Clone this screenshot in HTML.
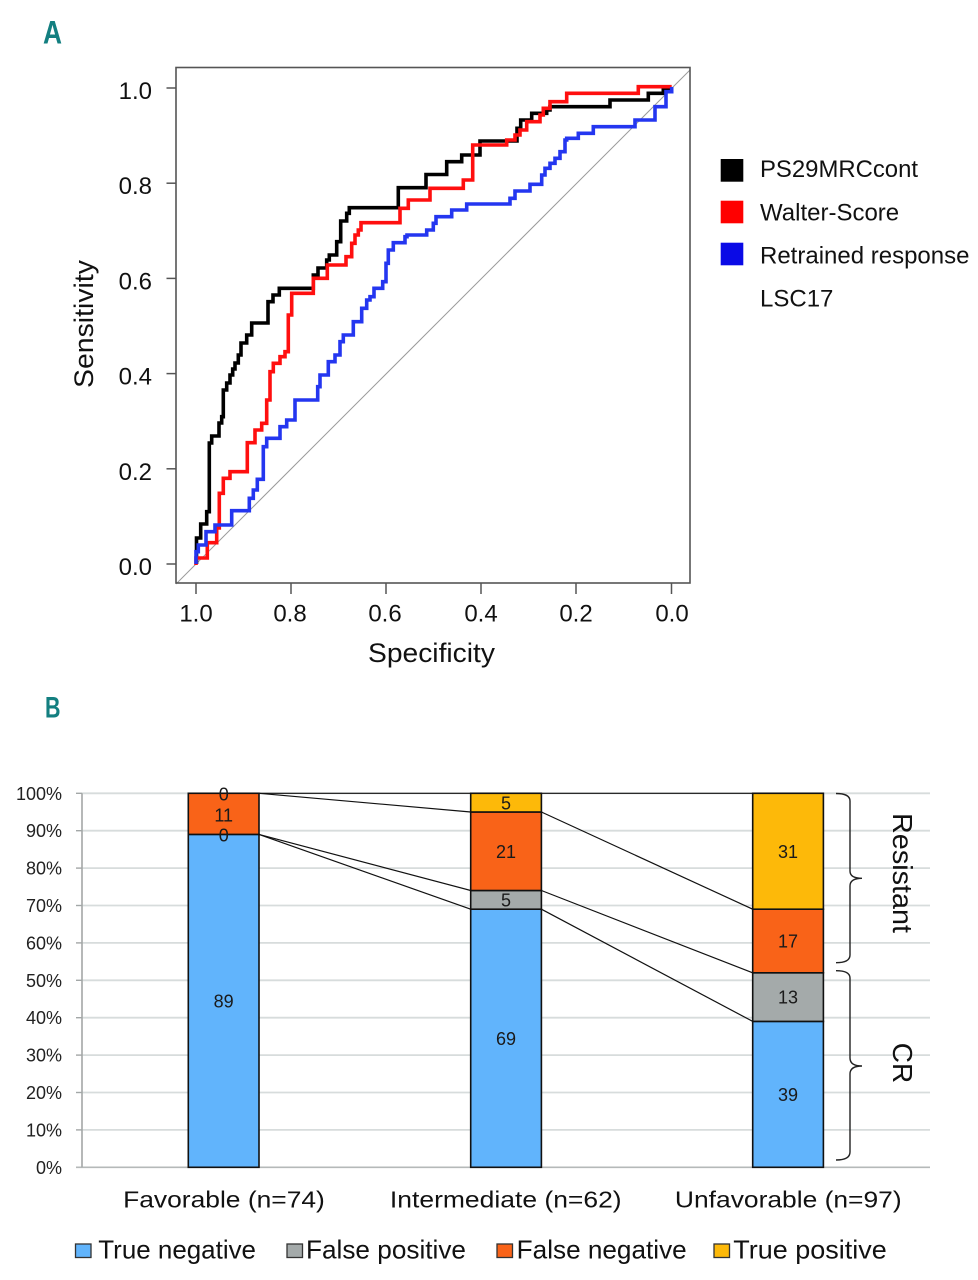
<!DOCTYPE html>
<html>
<head>
<meta charset="utf-8">
<style>
  html,body{margin:0;padding:0;background:#fff;}
  svg{display:block;}
  text{font-family:"Liberation Sans",Arial,sans-serif;}
</style>
</head>
<body>
<svg width="978" height="1280" viewBox="0 0 978 1280" xmlns="http://www.w3.org/2000/svg">
  <rect width="978" height="1280" fill="#fff"/>

  <!-- ============ PANEL A ============ -->
  <text x="43" y="43.3" font-family="Liberation Sans Narrow, Liberation Sans, sans-serif" font-weight="bold" font-size="32" fill="#137f80" textLength="19" lengthAdjust="spacingAndGlyphs">A</text>

  <!-- diagonal -->
  <line x1="176" y1="584" x2="690" y2="70" stroke="#9a9a9a" stroke-width="1"/>

  <!-- curves -->
  <g fill="none" stroke-width="3.6" stroke-linejoin="miter" stroke-linecap="butt">
    <path stroke="#000" d="M196.5,564 V538 H200.7 V524 H206.7 V511.7 H209.3 V443 H211.7 V436 H219 V423 H221.7 V416.7 H223.3 V390 H226.7 V383 H230 V375 H232.7 V369 H235 V363 H238.3 V355 H241 V343 H246.7 V335 H251.7 V323 H268 V301.7 H273 V295 H279.3 V288.3 H313.3 V275 H318 V268 H326.7 V260 H329.3 V255 H336.7 V241.7 H340.7 V221 H346.7 V213.3 H349.3 V207.7 H398.3 V187.7 H426 V174.5 H446.7 V161.7 H461.7 V155 H480 V141 H517 V128.3 H520.7 V120 H531.7 V113.3 H546.7 V110 H550 V106.7 H610 V100 H648.3 V93.3 H663.3 V89.3 H671.7 V87"/>
    <path stroke="#ff0f0f" d="M196,565 V558 H207.3 V542.7 H216.7 V528 H219.3 V493.3 H223.3 V478.3 H230 V471.7 H247.3 V442.7 H255 V430 H261.7 V423.3 H266.7 V400 H270 V371.7 H273.3 V363.3 H280 V356.7 H285 V351.7 H288.3 V315 H291.7 V293.3 H313.3 V278.3 H327.3 V265 H346 V256.7 H351.7 V243.3 H355 V235 H358.3 V230 H361 V222.7 H400 V208.3 H408.3 V200 H430 V188.3 H463.3 V180 H472.7 V145 H506.7 V140 H515 V135 H520 V130 H526.7 V121.7 H540 V115 H543.3 V108.3 H550 V101.7 H566.7 V93.3 H638.3 V86.7 H671.7"/>
    <path stroke="#2436f0" d="M196,564 V551.7 H198.3 V545 H206 V531.7 H215 V525 H231.7 V510.7 H249.3 V498.3 H253.3 V490 H257.3 V479.3 H263.3 V446.7 H266.7 V438.3 H280 V426.7 H286.7 V420 H295 V400 H317.7 V386.7 H320 V375 H328.3 V361.7 H335 V355 H340 V341.7 H343.3 V335 H353.3 V321.7 H361.7 V308.3 H366.7 V300 H370 V296.7 H374 V288.3 H382.7 V281.7 H386 V263.3 H388.3 V250 H393.3 V242.7 H405 V236.7 H407 V235 H426.7 V230 H433.3 V223.3 H436 V216.7 H451.7 V210 H466.7 V204 H510 V198.3 H515 V191 H530 V184.3 H541.7 V175 H545 V168.3 H550 V163.3 H555 V158.3 H560 V151.7 H565 V140 H566.7 V138.3 H578.3 V133.3 H593.3 V126.7 H635 V120 H655 V106.7 H666 V91.7 H671.7 V87"/>
  </g>

  <!-- box -->
  <rect x="176" y="67.5" width="514" height="515.5" fill="none" stroke="#555" stroke-width="1.6"/>

  <!-- y ticks -->
  <g stroke="#555" stroke-width="1.5">
    <line x1="166.5" y1="88" x2="176" y2="88"/>
    <line x1="166.5" y1="183.2" x2="176" y2="183.2"/>
    <line x1="166.5" y1="278.4" x2="176" y2="278.4"/>
    <line x1="166.5" y1="373.6" x2="176" y2="373.6"/>
    <line x1="166.5" y1="468.8" x2="176" y2="468.8"/>
    <line x1="166.5" y1="564" x2="176" y2="564"/>
    <!-- x ticks -->
    <line x1="196" y1="583" x2="196" y2="594"/>
    <line x1="291" y1="583" x2="291" y2="594"/>
    <line x1="386" y1="583" x2="386" y2="594"/>
    <line x1="481" y1="583" x2="481" y2="594"/>
    <line x1="576" y1="583" x2="576" y2="594"/>
    <line x1="671.5" y1="583" x2="671.5" y2="594"/>
  </g>
  <g font-size="24" fill="#111" text-anchor="end">
    <text x="152" y="99">1.0</text>
    <text x="152" y="194.2">0.8</text>
    <text x="152" y="289.4">0.6</text>
    <text x="152" y="384.6">0.4</text>
    <text x="152" y="479.8">0.2</text>
    <text x="152" y="575">0.0</text>
  </g>
  <g font-size="24" fill="#111" text-anchor="middle">
    <text x="196" y="621.5">1.0</text>
    <text x="290" y="621.5">0.8</text>
    <text x="385" y="621.5">0.6</text>
    <text x="481" y="621.5">0.4</text>
    <text x="576" y="621.5">0.2</text>
    <text x="672" y="621.5">0.0</text>
  </g>
  <text x="368" y="662" font-size="26.5" fill="#111" textLength="127" lengthAdjust="spacingAndGlyphs">Specificity</text>
  <text transform="translate(93,388) rotate(-90)" x="0" y="0" font-size="26.5" fill="#111" textLength="128" lengthAdjust="spacingAndGlyphs">Sensitivity</text>

  <!-- legend A -->
  <rect x="720.7" y="159" width="22.6" height="22.7" fill="#000"/>
  <rect x="720.7" y="200.7" width="22.6" height="22.6" fill="#f00"/>
  <rect x="720.7" y="242.7" width="22.6" height="22.6" fill="#0a0ae6"/>
  <g font-size="24" fill="#111">
    <text x="760" y="177" textLength="158" lengthAdjust="spacingAndGlyphs">PS29MRCcont</text>
    <text x="760" y="220.5">Walter-Score</text>
    <text x="760" y="263.3">Retrained response</text>
    <text x="760" y="306.5">LSC17</text>
  </g>

  <!-- ============ PANEL B ============ -->
  <text x="45" y="717.7" font-family="Liberation Sans Narrow, Liberation Sans, sans-serif" font-weight="bold" font-size="30" fill="#137f80" textLength="15.5" lengthAdjust="spacingAndGlyphs">B</text>

  <!-- gridlines -->
  <g stroke="#d7dcdc" stroke-width="1.8">
    <line x1="82" y1="793.3" x2="930" y2="793.3"/>
    <line x1="82" y1="830.7" x2="930" y2="830.7"/>
    <line x1="82" y1="868.1" x2="930" y2="868.1"/>
    <line x1="82" y1="905.5" x2="930" y2="905.5"/>
    <line x1="82" y1="942.9" x2="930" y2="942.9"/>
    <line x1="82" y1="980.3" x2="930" y2="980.3"/>
    <line x1="82" y1="1017.7" x2="930" y2="1017.7"/>
    <line x1="82" y1="1055.1" x2="930" y2="1055.1"/>
    <line x1="82" y1="1092.5" x2="930" y2="1092.5"/>
    <line x1="82" y1="1129.9" x2="930" y2="1129.9"/>
  </g>
  <line x1="76" y1="1167.3" x2="930" y2="1167.3" stroke="#b5b9b9" stroke-width="1.6"/>
  <line x1="82" y1="793.3" x2="82" y2="1167.3" stroke="#a3a7a7" stroke-width="1.6"/>
  <g stroke="#a3a7a7" stroke-width="1.4">
    <line x1="76" y1="793.3" x2="82" y2="793.3"/>
    <line x1="76" y1="830.7" x2="82" y2="830.7"/>
    <line x1="76" y1="868.1" x2="82" y2="868.1"/>
    <line x1="76" y1="905.5" x2="82" y2="905.5"/>
    <line x1="76" y1="942.9" x2="82" y2="942.9"/>
    <line x1="76" y1="980.3" x2="82" y2="980.3"/>
    <line x1="76" y1="1017.7" x2="82" y2="1017.7"/>
    <line x1="76" y1="1055.1" x2="82" y2="1055.1"/>
    <line x1="76" y1="1092.5" x2="82" y2="1092.5"/>
    <line x1="76" y1="1129.9" x2="82" y2="1129.9"/>
  </g>
  <g font-size="18" fill="#222" text-anchor="end">
    <text x="62" y="799.8">100%</text>
    <text x="62" y="837.2">90%</text>
    <text x="62" y="874.6">80%</text>
    <text x="62" y="912">70%</text>
    <text x="62" y="949.4">60%</text>
    <text x="62" y="986.8">50%</text>
    <text x="62" y="1024.2">40%</text>
    <text x="62" y="1061.6">30%</text>
    <text x="62" y="1099">20%</text>
    <text x="62" y="1136.4">10%</text>
    <text x="62" y="1173.8">0%</text>
  </g>

  <!-- connecting lines -->
  <g stroke="#111" stroke-width="1.2">
    <line x1="259" y1="793.3" x2="470.7" y2="793.3"/>
    <line x1="259" y1="793.3" x2="470.7" y2="812"/>
    <line x1="259" y1="834.4" x2="470.7" y2="890.5"/>
    <line x1="259" y1="834.4" x2="470.7" y2="909.2"/>
    <line x1="541.4" y1="793.3" x2="752.7" y2="793.3"/>
    <line x1="541.4" y1="812" x2="752.7" y2="909.2"/>
    <line x1="541.4" y1="890.5" x2="752.7" y2="972.8"/>
    <line x1="541.4" y1="909.2" x2="752.7" y2="1021.4"/>
  </g>

  <!-- bars -->
  <g stroke="#111" stroke-width="1.6">
    <rect x="188.3" y="834.4" width="70.7" height="332.9" fill="#61b4fc"/>
    <rect x="188.3" y="793.3" width="70.7" height="41.1" fill="#f96318"/>

    <rect x="470.7" y="909.2" width="70.7" height="258.1" fill="#61b4fc"/>
    <rect x="470.7" y="890.5" width="70.7" height="18.7" fill="#a4aaaa"/>
    <rect x="470.7" y="812" width="70.7" height="78.5" fill="#f96318"/>
    <rect x="470.7" y="793.3" width="70.7" height="18.7" fill="#fdb909"/>

    <rect x="752.7" y="1021.4" width="70.7" height="145.9" fill="#61b4fc"/>
    <rect x="752.7" y="972.8" width="70.7" height="48.6" fill="#a4aaaa"/>
    <rect x="752.7" y="909.2" width="70.7" height="63.6" fill="#f96318"/>
    <rect x="752.7" y="793.3" width="70.7" height="115.9" fill="#fdb909"/>
  </g>

  <g font-size="18" fill="#1a1a1a" text-anchor="middle">
    <text x="223.7" y="800.5">0</text>
    <text x="223.7" y="821.5">11</text>
    <text x="223.7" y="841.5">0</text>
    <text x="223.7" y="1007.5">89</text>

    <text x="506" y="809.5">5</text>
    <text x="506" y="858">21</text>
    <text x="506" y="906.5">5</text>
    <text x="506" y="1045">69</text>

    <text x="788" y="858">31</text>
    <text x="788" y="947.5">17</text>
    <text x="788" y="1003.5">13</text>
    <text x="788" y="1101">39</text>
  </g>

  <!-- braces -->
  <g fill="none" stroke="#222" stroke-width="1.4">
    <path d="M836,793.5 Q850,793.5 850,801 V871 Q850,878.3 862,878.3 Q850,878.3 850,886 V955 Q850,962.7 836,962.7"/>
    <path d="M836,970.7 Q850,970.7 850,978 V1058 Q850,1066 862,1066 Q850,1066 850,1074 V1152 Q850,1160 836,1160"/>
  </g>
  <text transform="translate(893,873) rotate(90)" x="0" y="0" font-size="28" fill="#111" text-anchor="middle" textLength="120" lengthAdjust="spacingAndGlyphs">Resistant</text>
  <text transform="translate(893,1063) rotate(90)" x="0" y="0" font-size="28" fill="#111" text-anchor="middle">CR</text>

  <!-- category labels -->
  <g font-size="23" fill="#111" text-anchor="middle">
    <text x="224" y="1207.3" textLength="201.7" lengthAdjust="spacingAndGlyphs">Favorable (n=74)</text>
    <text x="505.8" y="1207.3" textLength="231.7" lengthAdjust="spacingAndGlyphs">Intermediate (n=62)</text>
    <text x="788.3" y="1207.3" textLength="226.7" lengthAdjust="spacingAndGlyphs">Unfavorable (n=97)</text>
  </g>

  <!-- legend B -->
  <g stroke="#333" stroke-width="1.3">
    <rect x="75.5" y="1244" width="15.5" height="13.5" fill="#61b4fc"/>
    <rect x="287" y="1244" width="15.5" height="13.5" fill="#a4aaaa"/>
    <rect x="497" y="1244" width="15.5" height="13.5" fill="#f96318"/>
    <rect x="714" y="1244" width="15.5" height="13.5" fill="#fdb909"/>
  </g>
  <g font-size="26" fill="#111">
    <text x="98.3" y="1258.3" textLength="157.7" lengthAdjust="spacingAndGlyphs">True negative</text>
    <text x="306" y="1258.3" textLength="160" lengthAdjust="spacingAndGlyphs">False positive</text>
    <text x="516.7" y="1258.3" textLength="170" lengthAdjust="spacingAndGlyphs">False negative</text>
    <text x="733.3" y="1258.3" textLength="153.4" lengthAdjust="spacingAndGlyphs">True positive</text>
  </g>
</svg>
</body>
</html>
